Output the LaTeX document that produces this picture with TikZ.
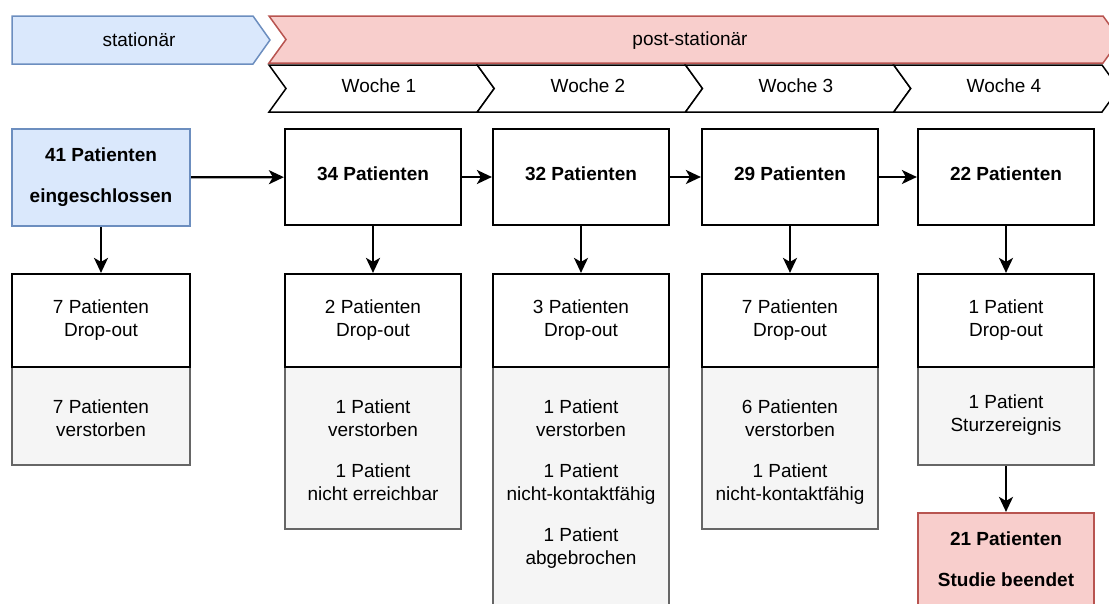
\documentclass[tikz,border=0pt]{standalone}
\usepackage{fontspec}
\setmainfont{Liberation Sans}
\usetikzlibrary{arrows.meta}

\definecolor{blueFill}{HTML}{DAE8FC}
\definecolor{blueLine}{HTML}{6C8EBF}
\definecolor{redFill}{HTML}{F8CECC}
\definecolor{redLine}{HTML}{B85450}
\definecolor{grayFill}{HTML}{F5F5F5}
\definecolor{grayLine}{HTML}{666666}

\tikzset{
  txt/.style={font=\fontsize{19}{23}\selectfont, align=center, inner sep=0pt},
  countbox/.style={draw=black, line width=2.2pt, fill=white, inner sep=0pt,
    minimum width=176pt, minimum height=96pt, align=center,
    font=\fontsize{19}{23}\selectfont\bfseries},
  dropbox/.style={draw=black, line width=2.2pt, fill=white, inner sep=0pt,
    minimum width=176pt, minimum height=93pt, align=center,
    font=\fontsize{19}{23}\selectfont},
  reasonbox/.style={draw=grayLine, line width=2.2pt, fill=grayFill, inner sep=0pt,
    minimum width=176pt},
  phase/.style={line width=1.5pt, line join=miter},
  flow/.style={line width=2.2pt, -{Stealth[length=15pt,width=14pt,inset=4pt]}}
}

\begin{document}
\begin{tikzpicture}[x=1pt, y=-1pt]
\useasboundingbox (0,0) rectangle (1109,603);
\clip (0,0) rectangle (1109,603);

% phase chevrons
\draw[phase, draw=blueLine, fill=blueFill]
  (12,16) -- (253,16) -- (270,40) -- (253,64) -- (12,64) -- cycle;
\draw[phase, draw=redLine, fill=redFill]
  (269,16) -- (1103,16) -- (1120,39.5) -- (1103,63) -- (269,63) -- (286,39.5) -- cycle;
\foreach \i in {0,1,2,3} {
  \pgfmathsetmacro{\s}{269+208.25*\i}
  \draw[phase, draw=black, fill=white]
    (\s,65) -- ({\s+208.25},65) -- ({\s+225.25},88.5) -- ({\s+208.25},112)
    -- (\s,112) -- ({\s+17},88.5) -- cycle;
}
\node[txt] (stat) at (139,40) {stationär};
\node[txt] (post) at (690,40.5) {post-stationär};
\node[txt] (w1) at (379,86) {Woche 1};
\node[txt] (w2) at (588,86) {Woche 2};
\node[txt] (w3) at (796,86) {Woche 3};
\node[txt] (w4) at (1004,86) {Woche 4};

% patient counts per week
\node[countbox, draw=blueLine, fill=blueFill, minimum width=178pt, minimum height=97pt]
  (n41) at (101,177.5) {41 Patienten\\[18pt]eingeschlossen};
\node[countbox, text depth=6pt] (n34) at (373,177) {34 Patienten};
\node[countbox, text depth=6pt] (n32) at (581,177) {32 Patienten};
\node[countbox, text depth=6pt] (n29) at (790,177) {29 Patienten};
\node[countbox, text depth=6pt] (n22) at (1006,177) {22 Patienten};

% reasons for drop-out (drawn first, the drop-out boxes sit on top)
\node[reasonbox, minimum width=178pt, minimum height=99pt] (r1) at (101,415.5) {};
\node[reasonbox, minimum height=163pt] (r2) at (373,447.5) {};
\node[reasonbox, minimum height=260pt] (r3) at (581,496) {};
\node[reasonbox, minimum height=163pt] (r4) at (790,447.5) {};
\node[reasonbox, minimum height=99pt] (r5) at (1006,415.5) {};
\node[txt] (r1text) at (101,418.5) {7 Patienten\\verstorben};
\node[txt] (r2text) at (373,450.5)
  {1 Patient\\verstorben\\[18pt]1 Patient\\nicht erreichbar};
\node[txt] (r3text) at (581,484.5)
  {1 Patient\\verstorben\\[18pt]1 Patient\\nicht-kontaktfähig\\[18pt]1 Patient\\abgebrochen};
\node[txt] (r4text) at (790,452.5)
  {6 Patienten\\verstorben\\[18pt]1 Patient\\nicht-kontaktfähig};
\node[txt] (r5text) at (1006,415.5) {1 Patient\\Sturzereignis};

% drop-out boxes
\node[dropbox, minimum width=178pt] (d1) at (101,320.5) {7 Patienten\\Drop-out};
\node[dropbox] (d2) at (373,320.5) {2 Patienten\\Drop-out};
\node[dropbox] (d3) at (581,320.5) {3 Patienten\\Drop-out};
\node[dropbox] (d4) at (790,320.5) {7 Patienten\\Drop-out};
\node[dropbox] (d5) at (1006,320.5) {1 Patient\\Drop-out};

% study completed
\node[countbox, draw=redLine, fill=redFill, minimum height=93pt]
  (done) at (1006,559.5) {21 Patienten\\[18pt]Studie beendet};

% connectors
\draw[flow] (n41) -- (n34);
\draw[flow] (n34) -- (n32);
\draw[flow] (n32) -- (n29);
\draw[flow] (n29) -- (n22);
\draw[flow] (n41) -- (d1);
\draw[flow] (n34) -- (d2);
\draw[flow] (n32) -- (d3);
\draw[flow] (n29) -- (d4);
\draw[flow] (n22) -- (d5);
\draw[flow] (r5) -- (done);
\end{tikzpicture}
\end{document}
